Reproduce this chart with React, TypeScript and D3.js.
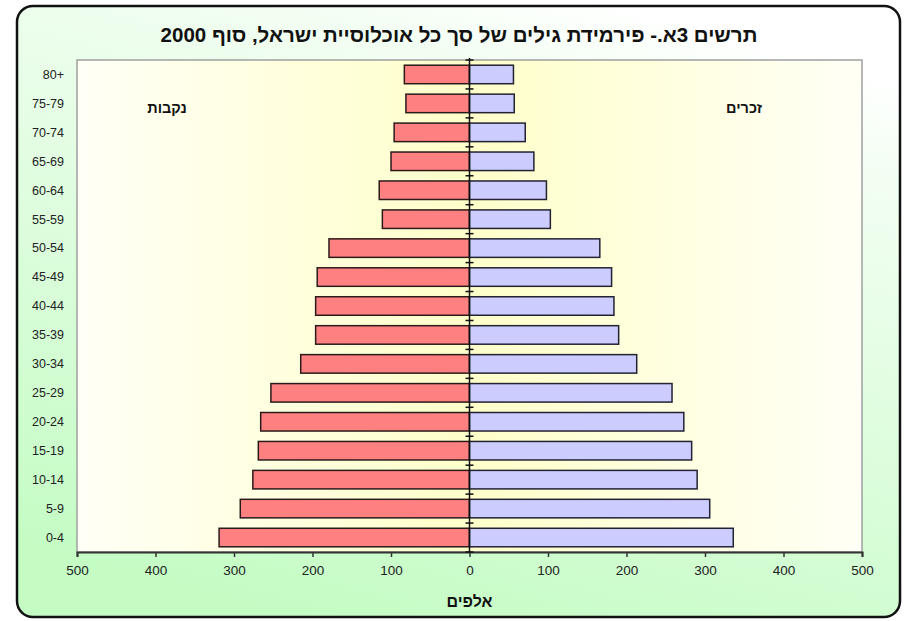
// @ts-nocheck

import React from 'react'
import * as d3 from 'd3'

const ageGroups = ['0-4', '5-9', '10-14', '15-19', '20-24', '25-29', '30-34', '35-39', '40-44', '45-49', '50-54', '55-59', '60-64', '65-69', '70-74', '75-79', '80+']
// thousands
const females = [319, 292, 276, 269, 266, 253, 215, 196, 196, 194, 179, 111, 115, 100, 96, 81, 83]
const males = [336, 306, 290, 283, 273, 258, 213, 190, 184, 181, 166, 103, 98, 82, 71, 57, 56]
const xTicks = [-500, -400, -300, -200, -100, 0, 100, 200, 300, 400, 500]

const title = 'תרשים 3א.- פירמידת גילים של סך כל אוכלוסיית ישראל, סוף 2000'
const femaleLabel = 'נקבות'
const maleLabel = 'זכרים'
const xTitle = 'אלפים'

const FONT = '"Liberation Sans", Arial, sans-serif'

const Pyramid = ({ width = 906, height = 621 }) => {
  const svgRef = React.useRef(null)
  const plot = { left: 77, right: 862, top: 60, bottom: 552 }

  React.useEffect(() => {
    const svgEl = d3.select(svgRef.current)
    svgEl.selectAll('*').remove()

    const defs = svgEl.append('defs')
    const outerGrad = defs
      .append('linearGradient')
      .attr('id', 'outerGrad')
      .attr('x1', 0.7)
      .attr('y1', 0)
      .attr('x2', 0.3)
      .attr('y2', 1)
    outerGrad.append('stop').attr('offset', 0).attr('stop-color', '#ffffff')
    outerGrad.append('stop').attr('offset', 0.15).attr('stop-color', '#f2fef2')
    outerGrad.append('stop').attr('offset', 1).attr('stop-color', '#c4fcc4')

    const plotGrad = defs.append('linearGradient').attr('id', 'plotGrad').attr('x1', 0).attr('y1', 0).attr('x2', 1).attr('y2', 0)
    plotGrad.append('stop').attr('offset', 0).attr('stop-color', '#fffff6')
    plotGrad.append('stop').attr('offset', 0.5).attr('stop-color', '#ffffca')
    plotGrad.append('stop').attr('offset', 1).attr('stop-color', '#fffff6')

    // outer frame
    svgEl
      .append('rect')
      .attr('x', 17)
      .attr('y', 6)
      .attr('width', 883)
      .attr('height', 611)
      .attr('rx', 16)
      .attr('fill', 'url(#outerGrad)')
      .attr('stroke', '#111')
      .attr('stroke-width', 2.5)

    const xScale = d3.scaleLinear().domain([-500, 500]).range([plot.left, plot.right])
    const yScale = d3.scaleBand().domain(ageGroups).range([plot.bottom, plot.top]).paddingInner(0.36).paddingOuter(0.18)

    // plot area
    svgEl
      .append('rect')
      .attr('x', plot.left)
      .attr('y', plot.top)
      .attr('width', plot.right - plot.left)
      .attr('height', plot.bottom - plot.top)
      .attr('fill', 'url(#plotGrad)')
      .attr('stroke', '#a0a0a0')
      .attr('stroke-width', 1.5)

    const rows = ageGroups.map((g, i) => ({ g, f: females[i], m: males[i] }))

    svgEl
      .append('g')
      .selectAll('rect')
      .data(rows)
      .enter()
      .append('rect')
      .attr('x', (d) => xScale(-d.f))
      .attr('y', (d) => yScale(d.g))
      .attr('width', (d) => xScale(0) - xScale(-d.f))
      .attr('height', yScale.bandwidth())
      .attr('fill', '#ff8080')
      .attr('stroke', '#2a1a1a')
      .attr('stroke-width', 1.5)

    svgEl
      .append('g')
      .selectAll('rect')
      .data(rows)
      .enter()
      .append('rect')
      .attr('x', xScale(0))
      .attr('y', (d) => yScale(d.g))
      .attr('width', (d) => xScale(d.m) - xScale(0))
      .attr('height', yScale.bandwidth())
      .attr('fill', '#ccccff')
      .attr('stroke', '#222233')
      .attr('stroke-width', 1.5)

    // bottom axis
    const xAxis = d3
      .axisBottom(xScale)
      .tickValues(xTicks)
      .tickSize(5)
      .tickPadding(8)
      .tickFormat((v) => `${Math.abs(v)}`)
    const xg = svgEl.append('g').attr('transform', `translate(0,${plot.bottom})`).call(xAxis)
    xg.select('.domain').attr('stroke', '#333').attr('stroke-width', 2)
    xg.selectAll('line').attr('stroke', '#333').attr('stroke-width', 1.5)
    xg.selectAll('text').attr('font-family', FONT).attr('font-size', 13.5).attr('fill', '#222')

    // center axis with crossing ticks at category boundaries
    const step = yScale.step()
    const start = plot.bottom - yScale.paddingOuter() * step + (yScale.paddingInner() * step) / 2
    const boundaries = d3.range(ageGroups.length + 1).map((i) => Math.max(plot.top, start - i * step))
    const cx = xScale(0)
    const cg = svgEl.append('g')
    cg.append('line')
      .attr('x1', cx)
      .attr('x2', cx)
      .attr('y1', plot.top - 2)
      .attr('y2', plot.bottom)
      .attr('stroke', '#111')
      .attr('stroke-width', 1.5)
    cg.selectAll('.tk')
      .data(boundaries)
      .enter()
      .append('line')
      .attr('x1', cx - 4)
      .attr('x2', cx + 4)
      .attr('y1', (d) => d)
      .attr('y2', (d) => d)
      .attr('stroke', '#111')
      .attr('stroke-width', 1.5)

    // age labels
    svgEl
      .append('g')
      .selectAll('text')
      .data(ageGroups)
      .enter()
      .append('text')
      .attr('x', 64)
      .attr('y', (d) => yScale(d) + yScale.bandwidth() / 2)
      .attr('dy', '0.35em')
      .attr('text-anchor', 'end')
      .attr('direction', 'ltr')
      .attr('font-family', FONT)
      .attr('font-size', 12.5)
      .attr('fill', '#222')
      .text((d) => d)

    const label = (txt, x, y, size, weight = 'bold') =>
      svgEl
        .append('text')
        .attr('x', x)
        .attr('y', y)
        .attr('dy', '0.35em')
        .attr('text-anchor', 'middle')
        .attr('direction', 'rtl')
        .attr('font-family', FONT)
        .attr('font-size', size)
        .attr('font-weight', weight)
        .attr('fill', '#111')
        .text(txt)

    label(title, 459, 35, 20.5)
    label(femaleLabel, 167, 108, 14.5)
    label(maleLabel, 744, 108, 14.5)
    label(xTitle, cx, 601, 16)
  }, [])

  return <svg ref={svgRef} width={width} height={height} style={{ position: 'absolute', left: 0, top: 0 }} />
}

export default function App() {
  return <Pyramid />
}
